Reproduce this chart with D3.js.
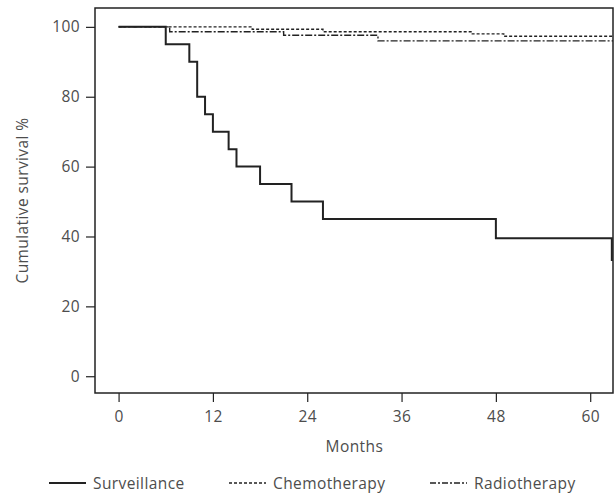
<!DOCTYPE html>
<html>
<head>
<meta charset="utf-8">
<script src="https://cdn.jsdelivr.net/npm/d3@7"></script>
<style>
  html, body { margin: 0; padding: 0; background: #fff; overflow: hidden; }
  svg { display: block; }
  svg text { font-family: "Open Sans", sans-serif; font-weight: 400; fill: #4d4d4d; letter-spacing: 0.4px; }
</style>
</head>
<body>
<script>
// Kaplan-Meier steps (months, cumulative survival %)
const survTimes = [0, 6, 9, 10, 11, 12, 14, 15, 18, 22, 26, 48, 62.75];
const survValues = [100, 95, 90, 80, 75, 70, 65, 60, 55, 50, 45, 39.5, 33];

const chemoTimes = [0, 17, 26, 45, 49];
const chemoValues = [100, 99.3, 98.6, 98.0, 97.3];

const radioTimes = [0, 6.5, 21, 33];
const radioValues = [100, 98.6, 97.6, 96.0];

const followUpEnd = 62.9;

const xTicks = [0, 12, 24, 36, 48, 60];
const yTicks = [0, 20, 40, 60, 80, 100];

const seriesNames = ['Surveillance', 'Chemotherapy', 'Radiotherapy'];

const width = 616;
const height = 495;
const margin = { top: 8, right: 3, bottom: 102, left: 95 };
const innerWidth = width - margin.left - margin.right;
const innerHeight = height - margin.top - margin.bottom;

const svg = d3.select('body')
  .append('svg')
  .attr('width', width)
  .attr('height', height);

const g = svg.append('g')
  .attr('transform', `translate(${margin.left}, ${margin.top})`);

const xScale = d3.scaleLinear()
  .domain([-3, followUpEnd])
  .range([0, innerWidth]);

const yScale = d3.scaleLinear()
  .domain([-4.8, 105.4])
  .range([innerHeight, 0]);

// axes
const xAxis = d3.axisBottom(xScale).tickValues(xTicks).tickSize(9).tickPadding(9).tickSizeOuter(0);
const yAxis = d3.axisLeft(yScale).tickValues(yTicks).tickSize(9).tickPadding(6).tickSizeOuter(0);

const xAxisG = g.append('g')
  .attr('transform', `translate(0, ${innerHeight})`)
  .call(xAxis);
const yAxisG = g.append('g').call(yAxis);

[xAxisG, yAxisG].forEach(a => {
  a.attr('font-family', null).attr('font-size', null);
  a.select('.domain').remove();
  a.selectAll('.tick line').attr('stroke', '#222').attr('stroke-width', 1.2);
  a.selectAll('.tick text').style('font-size', '15.5px');
});

// frame
g.append('rect')
  .attr('x', 0)
  .attr('y', 0)
  .attr('width', innerWidth)
  .attr('height', innerHeight)
  .attr('fill', 'none')
  .attr('stroke', '#222')
  .attr('stroke-width', 1.5);

// axis titles
g.append('text')
  .attr('x', xScale(30))
  .attr('y', innerHeight + 59)
  .attr('text-anchor', 'middle')
  .style('font-size', '15.5px')
  .text('Months');

g.append('text')
  .attr('transform', 'rotate(-90)')
  .attr('x', -innerHeight / 2)
  .attr('y', -67)
  .attr('text-anchor', 'middle')
  .style('font-size', '15.5px')
  .text('Cumulative survival %');

// step curves
const line = d3.line()
  .x(d => xScale(d[0]))
  .y(d => yScale(d[1]))
  .curve(d3.curveStepAfter);

const toPoints = (times, values, end) => {
  const pts = times.map((t, i) => [t, values[i]]);
  if (end !== undefined) pts.push([end, values[values.length - 1]]);
  return pts;
};

const styles = [
  { dash: null, width: 2 },
  { dash: '3,2', width: 1.4 },
  { dash: '7,2,2,2', width: 1.4 }
];

const series = [
  toPoints(survTimes, survValues),
  toPoints(chemoTimes, chemoValues, followUpEnd),
  toPoints(radioTimes, radioValues, followUpEnd)
];

series.forEach((pts, i) => {
  g.append('path')
    .datum(pts)
    .attr('d', line)
    .attr('fill', 'none')
    .attr('stroke', '#222')
    .attr('stroke-width', styles[i].width)
    .attr('stroke-dasharray', styles[i].dash);
});

// legend
const legendX = [49, 229, 430];
const legendY = 483;
const legend = svg.append('g');
seriesNames.forEach((name, i) => {
  legend.append('line')
    .attr('x1', legendX[i])
    .attr('x2', legendX[i] + 37)
    .attr('y1', legendY)
    .attr('y2', legendY)
    .attr('stroke', '#222')
    .attr('stroke-width', styles[i].width)
    .attr('stroke-dasharray', i === 2 ? '6,2,2,2' : styles[i].dash);
  legend.append('text')
    .attr('x', legendX[i] + 44)
    .attr('y', legendY + 6)
    .style('font-size', '15.5px')
    .text(name);
});
</script>
</body>
</html>
